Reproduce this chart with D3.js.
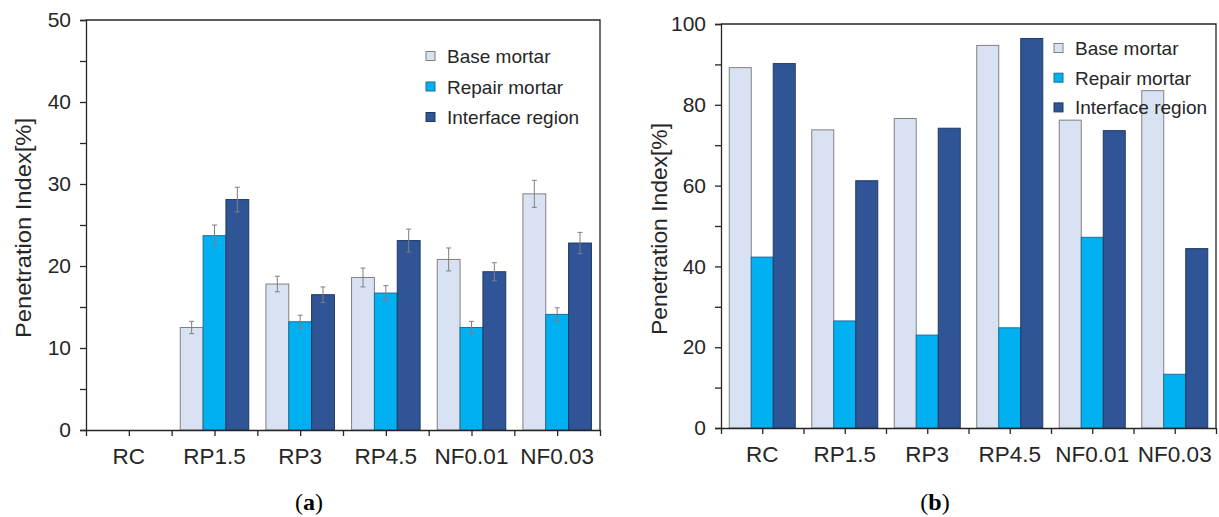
<!DOCTYPE html>
<html>
<head>
<meta charset="utf-8">
<script src="https://cdn.jsdelivr.net/npm/d3@7"></script>
<style>
  body { margin: 0; background: #ffffff; }
  text { font-family: "Liberation Sans", Arial, sans-serif; fill: #262626; }
  .caption { font-family: "Liberation Serif", "DejaVu Serif", serif; }
</style>
</head>
<body>
<div id="chart"></div>
<script>

/// data

const categories = ["RC", "RP1.5", "RP3", "RP4.5", "NF0.01", "NF0.03"];
const seriesNames = ["Base mortar", "Repair mortar", "Interface region"];
const colours = ["#d9e2f3", "#00b0f0", "#2f5597"];
const strokes = ["#808080", "#1d6f96", "#1f3864"];

// (a) with error bars
const aBase = [0, 12.5, 17.8, 18.6, 20.8, 28.8];
const aRepair = [0, 23.7, 13.2, 16.7, 12.5, 14.1];
const aInterface = [0, 28.1, 16.5, 23.1, 19.3, 22.8];
const aBaseErr = [0, 0.75, 0.95, 1.15, 1.4, 1.65];
const aRepairErr = [0, 1.3, 0.8, 0.9, 0.75, 0.8];
const aInterfaceErr = [0, 1.5, 0.95, 1.4, 1.1, 1.3];

// (b)
const bBase = [89.2, 73.8, 76.6, 94.7, 76.2, 83.5];
const bRepair = [42.3, 26.5, 23.0, 24.8, 47.2, 13.3];
const bInterface = [90.2, 61.2, 74.2, 96.4, 73.6, 44.4];

const aTicks = [0, 10, 20, 30, 40, 50];
const aMinor = [5, 15, 25, 35, 45];
const bTicks = [0, 20, 40, 60, 80, 100];
const bMinor = [10, 30, 50, 70, 90];

///////////////////////////////////////////////////////////////////////////////

const width = 1219;
const height = 517;

const svg = d3.select("#chart").append("svg")
  .attr("width", width)
  .attr("height", height);

svg.append("rect")
  .attr("width", width)
  .attr("height", height)
  .attr("fill", "#ffffff");


function drawPanel(p) {

  let x0 = d3.scaleBand()
    .domain(categories)
    .range([p.left, p.right])
    .paddingInner(0.2)
    .paddingOuter(0.1);

  let x1 = d3.scaleBand()
    .domain(seriesNames)
    .range([0, x0.bandwidth()]);

  // index scale for the group boundary / centre ticks
  let xi = d3.scaleLinear()
    .domain([0, categories.length])
    .range([p.left, p.right]);

  let y = d3.scaleLinear()
    .domain([0, p.max])
    .range([p.bottom, p.top]);

  let g = svg.append("g");

  // box (top and right)
  g.append("path")
    .attr("d", `M${p.left},${p.top}H${p.right}V${p.bottom}`)
    .attr("fill", "none")
    .attr("stroke", "#262626")
    .attr("stroke-width", 1.3);

  // rows of bar data
  let rows = [];
  categories.forEach((c, i) => {
    p.series.forEach((s, j) => {
      rows.push({
        cat: c,
        name: seriesNames[j],
        value: s[i],
        err: p.errors ? p.errors[j][i] : 0,
        j: j
      });
    });
  });

  g.selectAll("rect.bar")
    .data(rows.filter(d => d.value > 0))
    .enter()
    .append("rect")
    .attr("class", "bar")
    .attr("x", d => x0(d.cat) + x1(d.name))
    .attr("width", x1.bandwidth())
    .attr("y", d => y(d.value))
    .attr("height", d => y(0) - y(d.value))
    .style("fill", d => colours[d.j])
    .style("stroke", d => strokes[d.j])
    .style("stroke-width", 1);

  if (p.errors) {
    let eb = g.selectAll("g.err")
      .data(rows.filter(d => d.err > 0))
      .enter()
      .append("g")
      .attr("class", "err")
      .attr("transform", d => `translate(${x0(d.cat) + x1(d.name) + x1.bandwidth() / 2},0)`)
      .style("stroke", "#7f7f7f")
      .style("stroke-width", 1);
    eb.append("line")
      .attr("y1", d => y(d.value + d.err))
      .attr("y2", d => y(d.value - d.err));
    eb.append("line")
      .attr("x1", -2.5).attr("x2", 2.5)
      .attr("y1", d => y(d.value + d.err))
      .attr("y2", d => y(d.value + d.err));
    eb.append("line")
      .attr("x1", -2.5).attr("x2", 2.5)
      .attr("y1", d => y(d.value - d.err))
      .attr("y2", d => y(d.value - d.err));
  }

  // y axis
  let yAxis = d3.axisLeft(y)
    .tickValues(p.ticks)
    .tickSize(6)
    .tickPadding(9)
    .tickFormat(d3.format("d"));

  let ya = g.append("g")
    .attr("transform", `translate(${p.left},0)`)
    .call(yAxis);
  ya.selectAll("text").style("font-size", "21px").style("fill", "#262626");

  let ym = g.append("g")
    .attr("transform", `translate(${p.left},0)`)
    .call(d3.axisLeft(y).tickValues(p.minor).tickSize(6).tickFormat(""));
  ym.select(".domain").remove();

  [ya, ym].forEach(a => {
    a.selectAll("line").attr("stroke", "#262626").attr("stroke-width", 1.3);
    a.select(".domain").attr("stroke", "#262626").attr("stroke-width", 1.3);
  });

  // x axis: ticks at group edges and centres
  let xt = g.append("g")
    .attr("transform", `translate(0,${p.bottom})`)
    .call(d3.axisBottom(xi)
      .tickValues(d3.range(0, categories.length + 0.01, 0.5))
      .tickSize(6)
      .tickSizeOuter(0)
      .tickFormat(""));
  xt.selectAll("line").attr("stroke", "#262626").attr("stroke-width", 1.3);
  xt.select(".domain").attr("stroke", "#262626").attr("stroke-width", 1.3);

  let xl = g.append("g")
    .attr("transform", `translate(0,${p.bottom})`)
    .call(d3.axisBottom(x0).tickSize(0).tickPadding(18));
  xl.select(".domain").remove();
  xl.selectAll("text").style("font-size", "22.5px").style("fill", "#262626");

  // y title
  g.append("text")
    .attr("transform", `translate(${p.titleX},${(p.top + p.bottom) / 2 + 3}) rotate(-90)`)
    .style("text-anchor", "middle")
    .style("font-size", "22px")
    .attr("textLength", p.titleLen)
    .attr("lengthAdjust", "spacingAndGlyphs")
    .text("Penetration Index[%]");

  // legend
  let lg = g.selectAll("g.legend")
    .data(seriesNames)
    .enter()
    .append("g")
    .attr("class", "legend")
    .attr("transform", (d, i) => `translate(${p.legendX},${p.legendY + i * p.legendStep})`);
  lg.append("rect")
    .attr("x", 0).attr("y", -4.5)
    .attr("width", 9).attr("height", 9)
    .style("fill", (d, i) => colours[i])
    .style("stroke", (d, i) => strokes[i])
    .style("stroke-width", 1);
  lg.append("text")
    .attr("x", 21)
    .attr("y", 7)
    .style("font-size", "19px")
    .text(d => d);

  // caption
  let cap = svg.append("text")
    .attr("class", "caption")
    .attr("x", p.capX)
    .attr("y", 510)
    .style("text-anchor", "middle")
    .style("font-size", "24px")
    .style("fill", "#000");
  cap.append("tspan").text("(");
  cap.append("tspan").style("font-weight", "bold").text(p.letter);
  cap.append("tspan").text(")");
}


drawPanel({
  left: 86, right: 600, top: 20, bottom: 430,
  max: 50, ticks: aTicks, minor: aMinor,
  series: [aBase, aRepair, aInterface],
  errors: [aBaseErr, aRepairErr, aInterfaceErr],
  titleX: 31, titleLen: 220,
  legendX: 426, legendY: 56, legendStep: 30.5,
  capX: 309, letter: "a"
});

drawPanel({
  left: 721, right: 1216, top: 24, bottom: 428,
  max: 100, ticks: bTicks, minor: bMinor,
  series: [bBase, bRepair, bInterface],
  errors: null,
  titleX: 667, titleLen: 212,
  legendX: 1054, legendY: 48, legendStep: 29.7,
  capX: 935, letter: "b"
});

</script>
</body>
</html>
